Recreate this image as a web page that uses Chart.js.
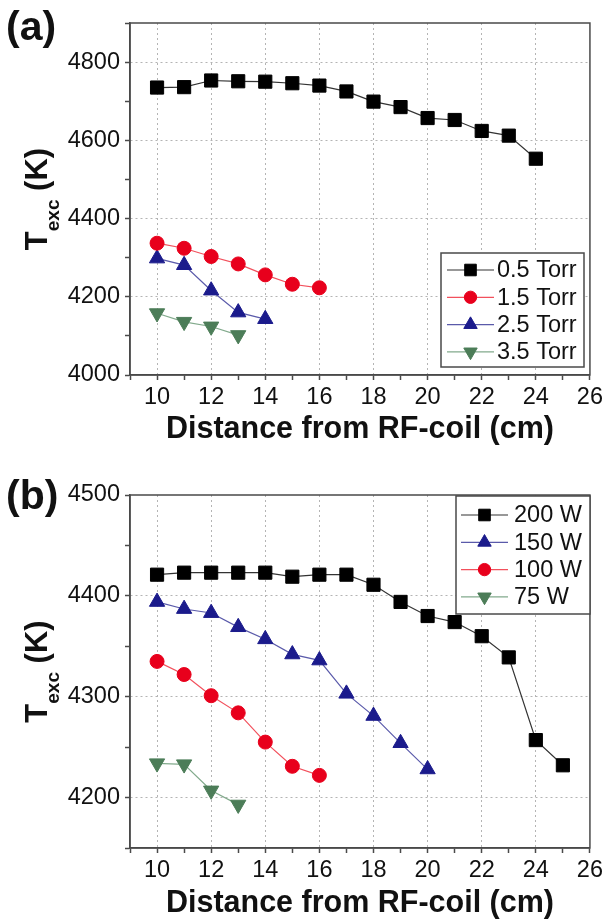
<!DOCTYPE html>
<html>
<head>
<meta charset="utf-8">
<script src="https://cdn.jsdelivr.net/npm/chart.js@4.4.1/dist/chart.umd.min.js"></script>
<style>
  body { margin: 0; background: #fff; }
  canvas { display: block; }
</style>
</head>
<body>
<canvas id="chartA" width="606" height="460" style="width:606px;height:460px"></canvas>
<canvas id="chartB" width="606" height="459" style="width:606px;height:459px"></canvas>
<script>
// distance from the RF coil (cm), shared by every series
const distance = [10, 11, 12, 13, 14, 15, 16, 17, 18, 19, 20, 21, 22, 23, 24, 25];

// (a) pressure series, T_exc in K
const torr05 = [4735, 4736, 4753, 4751, 4750, 4746, 4740, 4725, 4699, 4685, 4657, 4652, 4624, 4612, 4553];
const torr15 = [4337, 4324, 4303, 4284, 4256, 4232, 4223];
const torr25 = [4298, 4281, 4216, 4160, 4143];
const torr35 = [4158, 4136, 4124, 4102];

// (b) power series, T_exc in K
const w200 = [4421, 4423, 4423, 4423, 4423, 4419, 4421, 4421, 4411, 4394, 4380, 4374, 4360, 4339, 4257, 4232];
const w150 = [4394, 4387, 4383, 4369, 4357, 4342, 4336, 4303, 4281, 4254, 4228];
const w100 = [4335, 4322, 4301, 4284, 4255, 4231, 4222];
const w75 = [4234, 4233, 4207, 4193];

// axis ranges and labelled ticks
const xRange = [9, 26];
const xLabelStep = 2;
const yRangeA = [4000, 4900];
const yStepA = 100;
const yLabelStepA = 200;
const yRangeB = [4150, 4500];
const yStepB = 50;
const yLabelStepB = 100;

const FONT = "'Liberation Sans', Arial, sans-serif";

Chart.defaults.font.family = FONT;
Chart.defaults.color = '#111';

const marks = {
    black: { line: '#333333', fill: '#000000', style: 'rect', radius: 9.3, rotation: 0 },
    red: { line: '#f2505c', fill: '#e8001c', style: 'circle', radius: 7, rotation: 0 },
    blue: { line: '#5a5aaa', fill: '#1b1b8c', style: 'triangle', radius: 8.8, rotation: 0 },
    green: { line: '#82aa8c', fill: '#4c7d58', style: 'triangle', radius: 8.8, rotation: 180 }
};

function series(label, values, mark) {
    return {
        label: label,
        data: values.map((v, i) => ({ x: distance[i], y: v })),
        borderColor: mark.line,
        borderWidth: 1.2,
        pointStyle: mark.style,
        pointRotation: mark.rotation,
        pointRadius: mark.radius,
        pointHoverRadius: mark.radius,
        pointBackgroundColor: mark.fill,
        pointBorderColor: mark.fill,
        pointBorderWidth: 1,
        tension: 0
    };
}

// frame on top and right of the plot area
const framePlugin = {
    id: 'frame',
    afterDraw(chart) {
        const { ctx, chartArea: a } = chart;
        ctx.save();
        ctx.strokeStyle = '#4a4a4a';
        ctx.lineWidth = 1.5;
        ctx.strokeRect(a.left, a.top, a.right - a.left, a.bottom - a.top);
        ctx.restore();
    }
};

// y title with subscript, plus the panel letter
const titlePlugin = {
    id: 'texTitle',
    afterDraw(chart, args, opts) {
        const { ctx, chartArea: a } = chart;
        ctx.save();
        ctx.fillStyle = '#111';

        ctx.font = 'bold 41px ' + FONT;
        ctx.textBaseline = 'alphabetic';
        ctx.textAlign = 'left';
        ctx.fillText(opts.panel, 6, opts.panelBase);

        const big = 'bold 31px ' + FONT;
        const small = 'bold 19px ' + FONT;
        ctx.font = big;
        const wT = ctx.measureText('T').width;
        const wK = ctx.measureText(' (K)').width;
        ctx.font = small;
        const wSub = ctx.measureText('exc').width;
        const total = wT + wSub + wK;

        ctx.translate(47, (a.top + a.bottom) / 2);
        ctx.rotate(-Math.PI / 2);
        let x = -total / 2;
        ctx.font = big;
        ctx.fillText('T', x, 0);
        x += wT;
        ctx.font = small;
        ctx.fillText('exc', x, 12);
        x += wSub;
        ctx.font = big;
        ctx.fillText(' (K)', x, 0);
        ctx.restore();
    }
};

// legend inside the plot area, line through marker
const boxLegendPlugin = {
    id: 'boxLegend',
    afterDraw(chart, args, opts) {
        const { ctx } = chart;
        ctx.save();
        ctx.strokeStyle = '#4a4a4a';
        ctx.lineWidth = 1.5;
        ctx.fillStyle = '#fff';
        ctx.fillRect(opts.left, opts.top, opts.width, opts.height);
        ctx.strokeRect(opts.left, opts.top, opts.width, opts.height);

        chart.data.datasets.forEach((ds, i) => {
            const y = opts.top + opts.first + i * opts.step;
            ctx.strokeStyle = ds.borderColor;
            ctx.lineWidth = 1.2;
            ctx.beginPath();
            ctx.moveTo(opts.lineFrom, y);
            ctx.lineTo(opts.lineTo, y);
            ctx.stroke();

            ctx.fillStyle = ds.pointBackgroundColor;
            ctx.strokeStyle = ds.pointBorderColor;
            ctx.lineWidth = 1;
            Chart.helpers.drawPoint(ctx, {
                pointStyle: ds.pointStyle,
                radius: ds.pointRadius * 0.88,
                rotation: ds.pointRotation,
                borderWidth: 1
            }, (opts.lineFrom + opts.lineTo) / 2, y);

            ctx.fillStyle = '#111';
            ctx.font = '23.5px ' + FONT;
            ctx.textAlign = 'left';
            ctx.textBaseline = 'middle';
            ctx.fillText(ds.label, opts.textX, y + 1);
        });
        ctx.restore();
    }
};

function makeChart(id, datasets, yRange, yStep, yLabelStep, layout) {
    const ctx = document.getElementById(id).getContext('2d');
    return new Chart(ctx, {
        type: 'line',
        data: { datasets: datasets },
        plugins: [framePlugin, titlePlugin, boxLegendPlugin],
        options: {
            responsive: false,
            animation: false,
            devicePixelRatio: 1,
            layout: { padding: { top: layout.top, right: 16, left: 0, bottom: 0 } },
            scales: {
                x: {
                    type: 'linear',
                    min: xRange[0],
                    max: xRange[1],
                    afterFit: function(scale) { scale.height = layout.xHeight; },
                    ticks: {
                        stepSize: 1,
                        autoSkip: false,
                        maxRotation: 0,
                        padding: 3,
                        color: '#111',
                        font: { size: 23.5 },
                        callback: function(value) {
                            return value % xLabelStep === 0 ? String(value) : '';
                        }
                    },
                    grid: {
                        color: function(c) {
                            const v = c.tick ? c.tick.value : null;
                            return v !== null && v % xLabelStep === 0 && v > xRange[0] && v < xRange[1] ? '#b4b4b4' : 'rgba(0,0,0,0)';
                        },
                        lineWidth: 1,
                        tickLength: 5,
                        tickColor: '#4a4a4a',
                        tickWidth: 1.5
                    },
                    border: { color: '#4a4a4a', width: 1.5, dash: [2, 3] },
                    title: {
                        display: true,
                        text: 'Distance from RF-coil (cm)',
                        color: '#111',
                        font: { size: 30.5, weight: 'bold', lineHeight: 1 },
                        padding: { top: 0, bottom: layout.titlePad }
                    }
                },
                y: {
                    min: yRange[0],
                    max: yRange[1],
                    afterFit: function(scale) { scale.width = 130; },
                    ticks: {
                        stepSize: yStep,
                        autoSkip: false,
                        padding: 5,
                        color: '#111',
                        font: { size: 23.5 },
                        callback: function(value) {
                            return value % yLabelStep === 0 ? String(value) : '';
                        }
                    },
                    grid: {
                        color: function(c) {
                            const v = c.tick ? c.tick.value : null;
                            return v !== null && v % yLabelStep === 0 && v > yRange[0] && v < yRange[1] ? '#b4b4b4' : 'rgba(0,0,0,0)';
                        },
                        lineWidth: 1,
                        tickLength: 5,
                        tickColor: '#4a4a4a',
                        tickWidth: 1.5
                    },
                    border: { color: '#4a4a4a', width: 1.5, dash: [2, 3] }
                }
            },
            plugins: {
                legend: { display: false },
                tooltip: { enabled: false },
                texTitle: { panel: layout.panel, panelBase: layout.panelBase },
                boxLegend: layout.legend
            }
        }
    });
}

// Panel (a): pressure
makeChart('chartA', [
    series('0.5 Torr', torr05, marks.black),
    series('1.5 Torr', torr15, marks.red),
    series('2.5 Torr', torr25, marks.blue),
    series('3.5 Torr', torr35, marks.green)
], yRangeA, yStepA, yLabelStepA, {
    top: 23, xHeight: 85, titlePad: 15, panel: '(a)', panelBase: 40,
    legend: { left: 441, top: 253, width: 143, height: 114, first: 17, step: 27.3, lineFrom: 447, lineTo: 494, textX: 497 }
});

// Panel (b): RF power
makeChart('chartB', [
    series('200 W', w200, marks.black),
    series('150 W', w150, marks.blue),
    series('100 W', w100, marks.red),
    series('75 W', w75, marks.green)
], yRangeB, yStepB, yLabelStepB, {
    top: 35, xHeight: 71, titlePad: 0, panel: '(b)', panelBase: 49,
    legend: { left: 456, top: 36, width: 134, height: 118, first: 19, step: 27.3, lineFrom: 461, lineTo: 508, textX: 514 }
});
</script>
</body>
</html>
